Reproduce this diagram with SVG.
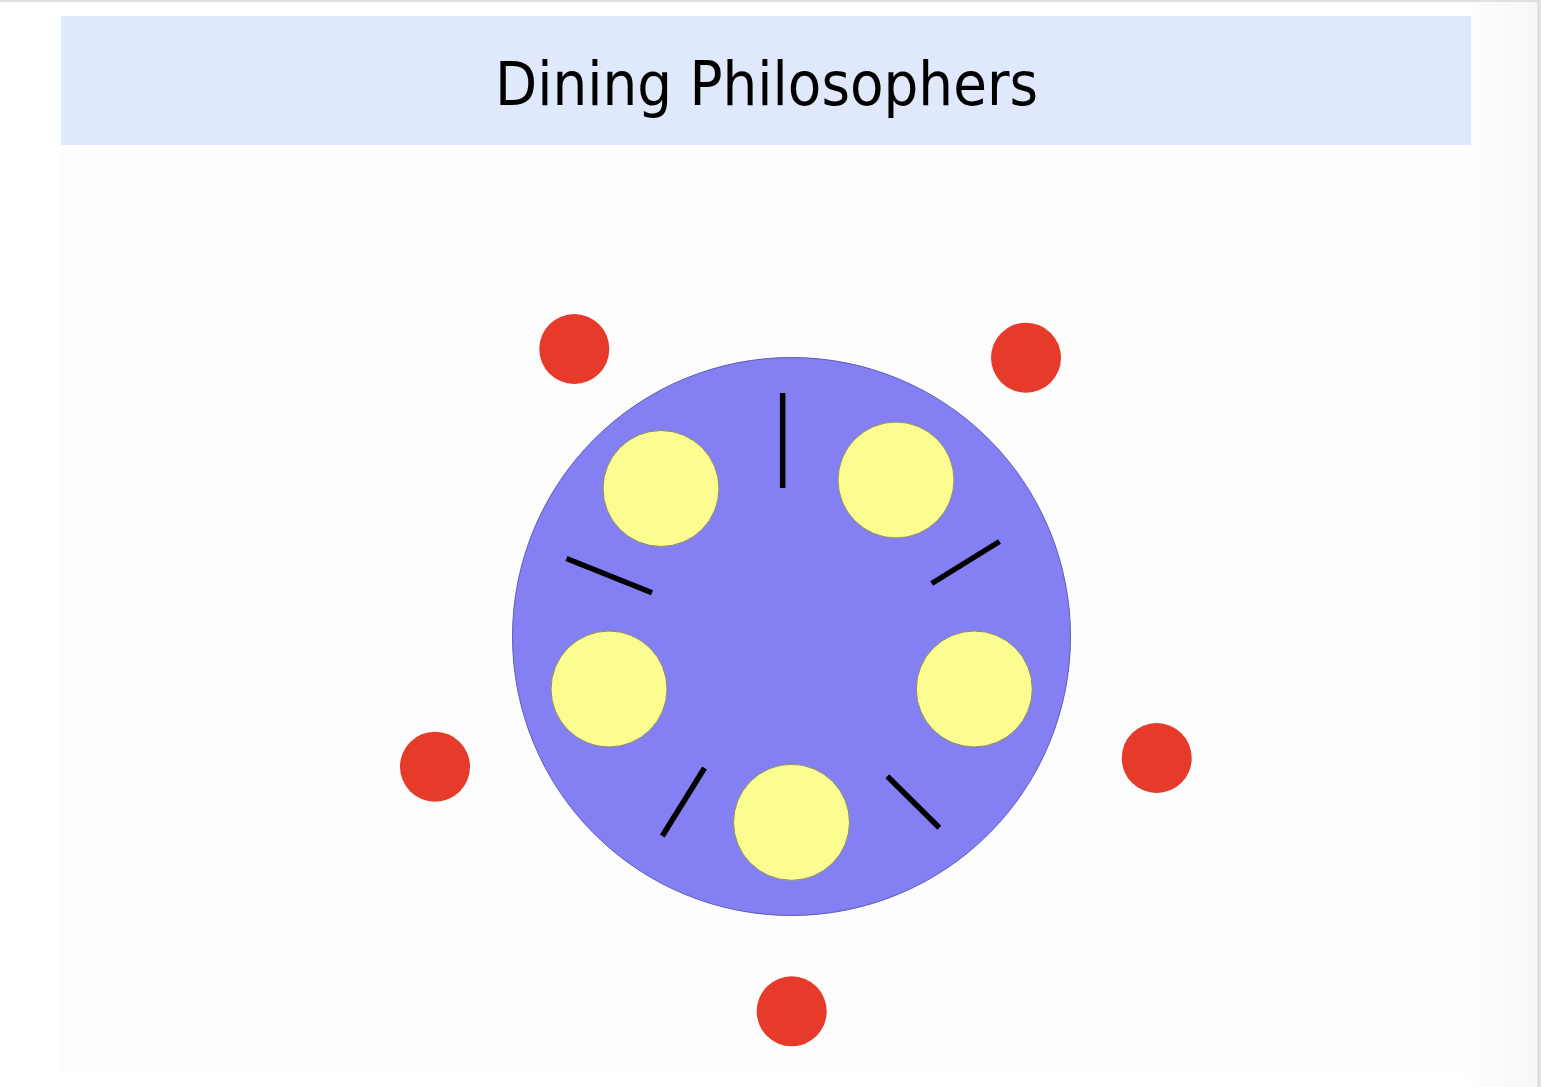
<svg xmlns="http://www.w3.org/2000/svg" width="1541" height="1087" viewBox="0 0 1541 1087">
  <defs>
    <linearGradient id="shade" x1="0" y1="0" x2="1" y2="0">
      <stop offset="0" stop-color="#fdfdfd"/>
      <stop offset="1" stop-color="#f7f7f7"/>
    </linearGradient>
    <style>
      .title { font-family: "DejaVu Sans Condensed", "DejaVu Sans", sans-serif; font-size: 61px; fill: #000; }
      .table { fill: #8480f4; stroke: #5f5cb8; stroke-width: 1; }
      .plate { fill: #fbfd91; stroke: #8a8a6a; stroke-width: 1; }
      .diner { fill: #e63a2a; }
      .chopstick { stroke: #000; stroke-width: 5.5; stroke-linecap: butt; }
    </style>
  </defs>

  <!-- page background -->
  <rect x="0" y="0" width="1541" height="1087" fill="#ffffff"/>
  <rect x="0" y="0" width="1541" height="2" fill="#e0e0e0"/>
  <rect x="1537" y="0" width="4" height="1087" fill="#e0e0e0"/>
  <rect x="1470" y="2" width="67" height="1085" fill="url(#shade)"/>
  <rect x="61" y="145" width="1409" height="928" fill="#fdfdfd"/>

  <!-- title band -->
  <g id="title">
    <rect x="61" y="16" width="1410" height="129" fill="#dfe9fb"/>
    <text class="title" x="766.5" y="105" text-anchor="middle" textLength="543" lengthAdjust="spacingAndGlyphs">Dining Philosophers</text>
  </g>

  <!-- table -->
  <g id="table">
    <circle class="table" cx="791.5" cy="636.5" r="279"/>
  </g>

  <!-- plates -->
  <g id="plate-1"><circle class="plate" cx="661" cy="488.5" r="58"/></g>
  <g id="plate-2"><circle class="plate" cx="896" cy="480" r="58"/></g>
  <g id="plate-3"><circle class="plate" cx="974.3" cy="689" r="58"/></g>
  <g id="plate-4"><circle class="plate" cx="791.5" cy="822.3" r="58"/></g>
  <g id="plate-5"><circle class="plate" cx="609" cy="689" r="58"/></g>

  <!-- chopsticks -->
  <g id="chopsticks">
    <line class="chopstick" x1="782.7" y1="393" x2="782.7" y2="488"/>
    <line class="chopstick" x1="931.7" y1="583.5" x2="999.5" y2="541.5"/>
    <line class="chopstick" x1="887.3" y1="776.3" x2="939.3" y2="827.7"/>
    <line class="chopstick" x1="662.3" y1="836" x2="704.5" y2="768"/>
    <line class="chopstick" x1="566.5" y1="558.5" x2="652" y2="592.8"/>
  </g>

  <!-- philosophers -->
  <g id="philosopher-1"><circle class="diner" cx="574.3" cy="349" r="35"/></g>
  <g id="philosopher-2"><circle class="diner" cx="1026" cy="357.7" r="35"/></g>
  <g id="philosopher-3"><circle class="diner" cx="1156.7" cy="758" r="35"/></g>
  <g id="philosopher-4"><circle class="diner" cx="791.7" cy="1011.3" r="35"/></g>
  <g id="philosopher-5"><circle class="diner" cx="435" cy="766.7" r="35"/></g>
</svg>
